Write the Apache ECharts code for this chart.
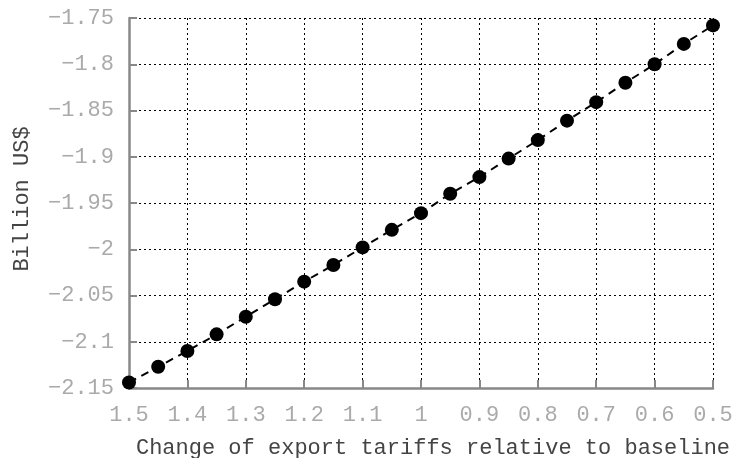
<!DOCTYPE html>
<html>
<head>
<meta charset="utf-8">
<script src="https://cdn.jsdelivr.net/npm/echarts@6/dist/echarts.min.js"></script>
<style>
  html, body { margin: 0; padding: 0; background: #fff; }
  #chart { width: 737px; height: 458px; }
</style>
</head>
<body>
<div id="chart"></div>
<script>
// tariff multipliers (x)
const tariffs = [1.5, 1.45, 1.4, 1.35, 1.3, 1.25, 1.2, 1.15, 1.1, 1.05, 1.0,
  0.95, 0.9, 0.85, 0.8, 0.75, 0.7, 0.65, 0.6, 0.55, 0.5];
// billion US$
const values = [-2.144, -2.127, -2.110, -2.092, -2.073, -2.054, -2.035, -2.017, -1.998, -1.979, -1.961,
  -1.940, -1.922, -1.902, -1.882, -1.861, -1.841, -1.820, -1.800, -1.778, -1.758];

const font = 'Liberation Mono, Courier New, monospace';
const fmt = v => {
  let s = (+v.toFixed(2)).toString();
  return s.replace('-', '\u2212');
};

const chart = echarts.init(document.getElementById('chart'));
chart.setOption({
  animation: false,
  grid: { left: 129, right: 24, top: 18, bottom: 70, containLabel: false, outerBoundsMode: 'none' },
  xAxis: {
    type: 'value',
    inverse: true,
    min: 0.5, max: 1.5, interval: 0.1,
    name: 'Change of export tariffs relative to baseline',
    nameLocation: 'middle',
    nameGap: 49,
    nameTextStyle: { fontFamily: font, fontSize: 22, color: '#444', padding: [0, 0, 0, 24] },
    axisLine: { lineStyle: { color: '#888', width: 2.5 } },
    axisTick: { inside: true, length: 8, lineStyle: { color: '#888', width: 2 } },
    axisLabel: { fontFamily: font, fontSize: 22, color: '#aaa', margin: 16, formatter: fmt },
    splitLine: { show: true, lineStyle: { color: '#000', type: [2, 3], width: 1 } }
  },
  yAxis: {
    type: 'value',
    min: -2.15, max: -1.75, interval: 0.05,
    name: 'Billion US$',
    nameLocation: 'middle',
    nameGap: 96,
    nameTextStyle: { fontFamily: font, fontSize: 22, color: '#444', padding: [0, 0, 0, 8] },
    axisLine: { show: true, lineStyle: { color: '#888', width: 2.5 } },
    axisTick: { show: true, inside: true, length: 8, lineStyle: { color: '#888', width: 2 } },
    axisLabel: { fontFamily: font, fontSize: 22, color: '#aaa', margin: 15, formatter: fmt },
    splitLine: { show: true, lineStyle: { color: '#000', type: [2, 3], width: 1 } }
  },
  series: [{
    type: 'line',
    data: tariffs.map((t, i) => [t, values[i]]),
    symbol: 'circle',
    symbolSize: 14,
    itemStyle: { color: '#000' },
    lineStyle: { color: '#000', width: 2, type: [8, 6] },
    z: 5
  }]
});
</script>
</body>
</html>
